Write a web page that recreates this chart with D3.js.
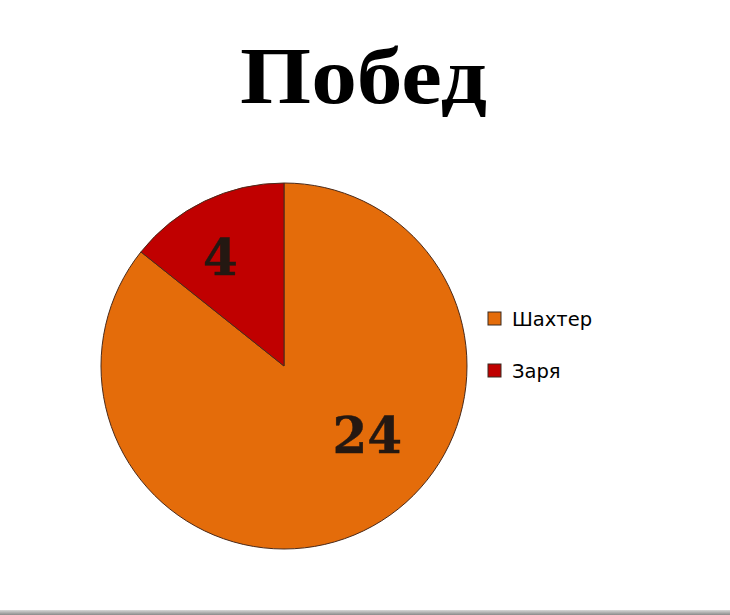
<html>
<head>
<meta charset="utf-8">
<style>
body{
  margin:0;
  padding:0;
  background:white;
  overflow:hidden;
}
#chart{ position:absolute; left:0; top:0; }
</style>
</head>
<body>
<div id="chart"></div>
<script src="https://cdn.jsdelivr.net/npm/d3@7"></script>
<script>
// ---- data ----
const teams  = ["Шахтер", "Заря"];
const wins   = [24, 4];
const colors = ["#E46C0A", "#C00000"];
const title  = "Побед";

const width = 730, height = 615;
const cx = 284, cy = 366, r = 183;

const svg = d3.select("#chart").append("svg")
    .attr("width", width).attr("height", height);

// title (stretched a bit, the original face is wider than Liberation Serif)
svg.append("text")
    .attr("x", 240).attr("y", 103)
    .attr("textLength", 247)
    .attr("lengthAdjust", "spacingAndGlyphs")
    .style("font-family", "'Liberation Serif', 'Times New Roman', serif")
    .style("font-weight", "bold")
    .style("font-size", "80px")
    .style("fill", "#000")
    .text(title);

//========== PIE ==========
const data = teams.map((t, i) => ({team: t, value: wins[i], color: colors[i]}));

const pie = d3.pie().sort(null).value(d => d.value);   // excel order, starts at 12 o'clock
const arc = d3.arc().innerRadius(0).outerRadius(r);

const g = svg.append("g").attr("transform", `translate(${cx},${cy})`);

const arcs = pie(data);

g.selectAll("path.slice")
  .data(arcs)
  .enter().append("path")
    .attr("class", "slice")
    .attr("d", arc)
    .attr("fill", d => d.data.color)
    .attr("stroke", "#4a2a1a")
    .attr("stroke-width", 1);

// excel "best fit" label: big slices get pulled toward the lower right
const labelPos = d => {
  const span = d.endAngle - d.startAngle;
  const a = span > Math.PI ? d.startAngle + span * 0.42 : (d.startAngle + d.endAngle) / 2 - 0.08;
  const rr = span > Math.PI ? r * 0.59 : r * 0.69;
  return [Math.sin(a) * rr, -Math.cos(a) * rr];
};

g.selectAll("text.lbl")
  .data(arcs)
  .enter().append("text")
    .attr("class", "lbl")
    .attr("transform", d => {
      const c = labelPos(d);
      return `translate(${c[0]},${c[1] + 18})`;
    })
    .attr("text-anchor", "middle")
    .style("font-family", "'DejaVu Serif', serif")
    .style("font-weight", "bold")
    .style("font-size", "50px")
    .style("fill", "#241812")
    .style("stroke", "#241812")
    .style("stroke-width", 0.4)
    .text(d => d.data.value);

//========== LEGEND ==========
const legend = svg.append("g").attr("transform", "translate(488,312)");

const item = legend.selectAll("g.item")
  .data(data)
  .enter().append("g")
    .attr("class", "item")
    .attr("transform", (d, i) => `translate(0,${i * 52})`);

item.append("rect")
    .attr("width", 13).attr("height", 13)
    .attr("fill", d => d.color)
    .attr("stroke", "#3a2a20")
    .attr("stroke-width", 1);

item.append("text")
    .attr("x", 24).attr("y", 14)
    .style("font-family", "'DejaVu Sans', Verdana, sans-serif")
    .style("font-size", "19.5px")
    .style("fill", "#000")
    .text(d => d.team);

// bottom border of the frame
const grad = svg.append("defs").append("linearGradient")
    .attr("id", "edge").attr("x1", 0).attr("y1", 0).attr("x2", 0).attr("y2", 1);
grad.append("stop").attr("offset", "0%").attr("stop-color", "#d8d8d8");
grad.append("stop").attr("offset", "100%").attr("stop-color", "#8a8a8a");
svg.append("rect")
    .attr("x", 0).attr("y", 610).attr("width", width).attr("height", 5)
    .attr("fill", "url(#edge)");
</script>
</body>
</html>
